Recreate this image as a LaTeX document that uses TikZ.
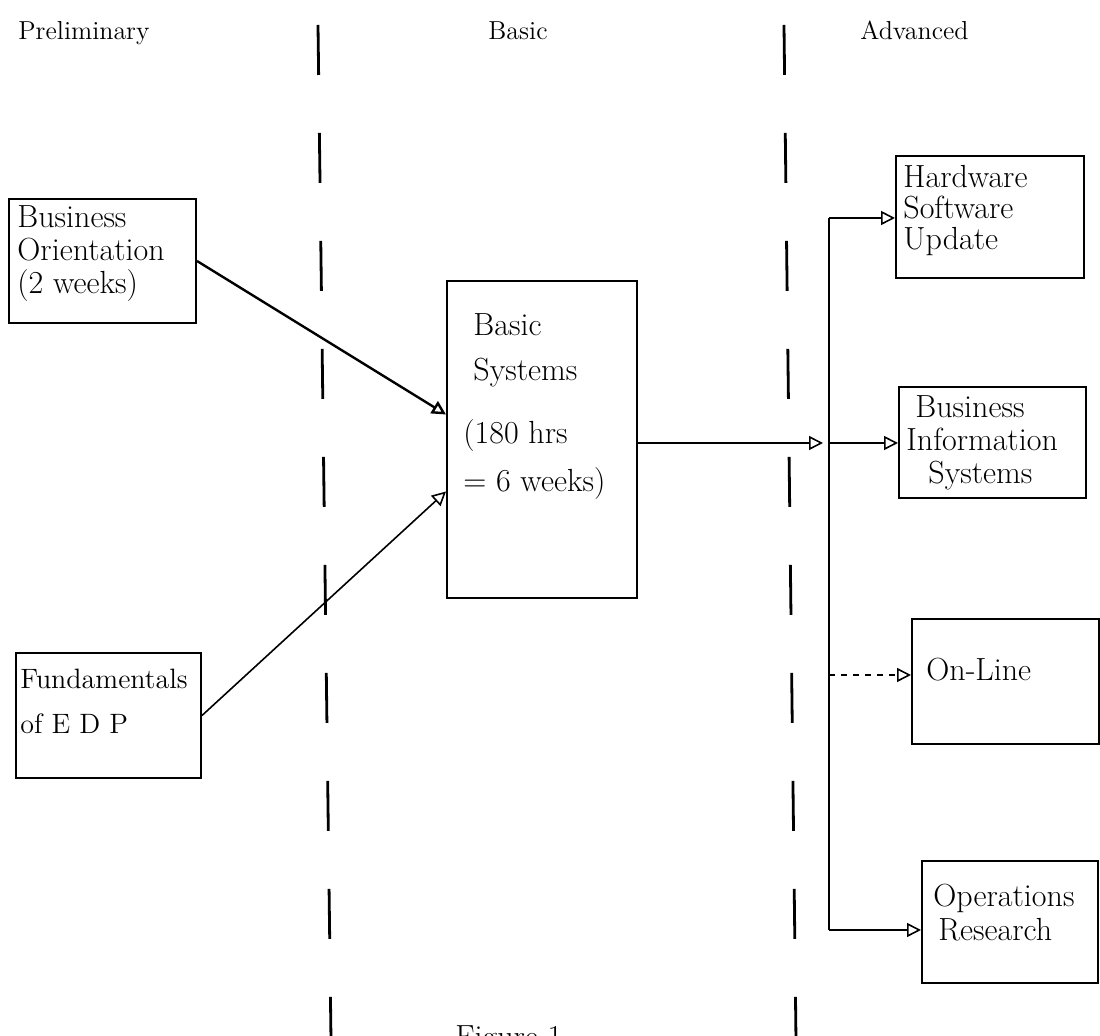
\documentclass[tikz,border=0pt]{standalone}
\usetikzlibrary{arrows.meta,calc}
\begin{document}
\begin{tikzpicture}[x=0.5pt,y=-0.5pt,
  box/.style={draw, line width=1pt, inner sep=0pt, anchor=north west},
  txt/.style={font=\fontsize{16}{16.5}\selectfont, align=left, inner sep=0pt, anchor=north west},
  head/.style={font=\fontsize{13}{15}\selectfont, inner sep=0pt, anchor=base west},
  divider/.style={line width=1.4pt, dash pattern=on 25pt off 29pt},
  conn/.style={line width=0.8pt, -{Triangle[open, length=7pt, width=7pt]}},
  bus/.style={line width=1pt}
]
\useasboundingbox[fill=white] (0,0) rectangle (1100,1036);

% headers
\node[head] (hpre) at (18,40) {Preliminary};
\node[head] (hbas) at (488,40) {Basic};
\node[head] (hadv) at (860,40) {Advanced};

% dividers
\coordinate (la) at (318,25); \coordinate (lb) at (331,1040);
\coordinate (ra) at (784,25); \coordinate (rb) at (796,1040);
\draw[divider] (la) -- (lb);
\draw[divider] (ra) -- (rb);

% boxes
\node[box, minimum width=93.5pt, minimum height=62pt,
  label={[txt, anchor=north west, xshift=4.5pt, yshift=-3.5pt]north west:{Business\\Orientation\\(2 weeks)}}]
  (bo) at (8,198) {};
\node[box, minimum width=92.5pt, minimum height=62.5pt,
  label={[txt, font=\fontsize{14}{22.5}\selectfont, anchor=north west, xshift=2.5pt, yshift=-8.5pt]north west:{Fundamentals\\of E D P}}]
  (fe) at (15,652) {};
\node[box, minimum width=95pt, minimum height=158.5pt,
  label={[txt, font=\fontsize{16}{22.5}\selectfont, anchor=north west, xshift=8.5pt, yshift=-16.5pt]north west:{\hspace*{5pt}Basic\\\hspace*{5pt}Systems\\[9pt](180 hrs\\[1.5pt]= 6 weeks)}}]
  (bs) at (446,280) {};
\node[box, minimum width=94pt, minimum height=61pt,
  label={[txt, font=\fontsize{16}{15.5}\selectfont, anchor=north west, xshift=4pt, yshift=-5pt]north west:{Hardware\\Software\\Update}}]
  (hw) at (895,155) {};
\node[box, minimum width=93.5pt, minimum height=55.5pt,
  label={[txt, anchor=north west, xshift=4pt, yshift=-4.5pt]north west:{\hspace*{4.5pt}Business\\Information\\\hspace*{11pt}Systems}}]
  (bi) at (898,386) {};
\node[box, minimum width=93.5pt, minimum height=62.5pt,
  label={[txt, anchor=north west, xshift=7.5pt, yshift=-20pt]north west:{On-Line}}]
  (ol) at (911,618) {};
\node[box, minimum width=88pt, minimum height=61pt,
  label={[txt, font=\fontsize{16}{17}\selectfont, anchor=north west, xshift=6pt, yshift=-12pt]north west:{Operations\\\hspace*{2.5pt}Research}}]
  (or) at (921,860) {};

% caption (cut by the page edge, as in the reference)
\node[txt, anchor=base west] (cap) at (455,1048) {Figure 1};

% connectors
\draw[conn, line width=1.2pt] (bo.east) -- ($(bs.west)+(0,-25)$);
\draw[conn] (fe.east) -- ($(bs.west)+(0,52)$);

\coordinate (j1) at (829,443);
\coordinate (bt) at (829,218);
\coordinate (bb) at (829,930);
\coordinate (j2) at (829,675);
\draw[conn] (bs.east |- j1) -- ([xshift=-3pt]j1);
\draw[bus] (bt) -- (bb);
\draw[conn] (j1) -- (j1 -| bi.west);
\draw[conn] (bt) -- (bt -| hw.west);
\draw[conn, dashed] (j2) -- (j2 -| ol.west);
\draw[conn] (bb) -- (bb -| or.west);
\end{tikzpicture}
\end{document}
